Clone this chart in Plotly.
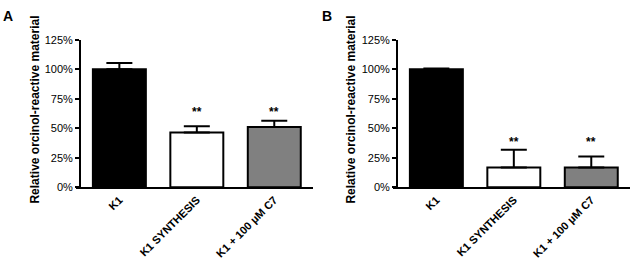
import plotly.graph_objects as go

categories = ["K1", "K1 SYNTHESIS", "K1 + 100 μM C7"]
colors = ["#000000", "#ffffff", "#808080"]
values_a = [100.0, 46.5, 51.2]
errors_a = [5.3, 5.2, 5.3]
values_b = [100.0, 16.8, 16.8]
errors_b = [0.8, 15.0, 9.3]
sig_labels = ["", "**", "**"]
y_ticks = [0, 25, 50, 75, 100, 125]
y_ticktext = ["0%", "25%", "50%", "75%", "100%", "125%"]
y_title = "Relative orcinol-reactive material"
panel_labels = ["A", "B"]

W, H = 635, 263
FONT = "Liberation Sans, Arial, sans-serif"

def px_x(p):
    return p / W

def px_y(p):
    return (H - p) / H

fig = go.Figure()

panels = [
    dict(vals=values_a, errs=errors_a, xa="x", ya="y", label_x=8, title_x=35),
    dict(vals=values_b, errs=errors_b, xa="x2", ya="y2", label_x=327, title_x=351),
]

for i, p in enumerate(panels):
    fig.add_trace(go.Bar(
        x=categories, y=p["vals"], xaxis=p["xa"], yaxis=p["ya"],
        marker=dict(color=colors, line=dict(color="black", width=2)),
        width=0.684,
        error_y=dict(type="data", array=p["errs"], arrayminus=[0] * len(p["errs"]),
                     symmetric=False, color="black", thickness=2, width=13),
        showlegend=False, hoverinfo="skip",
    ))
    top = max(v + e for v, e, s in zip(p["vals"], p["errs"], sig_labels) if s)
    for c, s in zip(categories, sig_labels):
        if s:
            fig.add_annotation(x=c, y=top + 7, xref=p["xa"], yref=p["ya"], text="<b>%s</b>" % s,
                               showarrow=False, font=dict(family=FONT, size=12, color="black"),
                               yanchor="middle")
    fig.add_annotation(x=px_x(p["label_x"]), y=px_y(10.5), xref="paper", yref="paper",
                       text="<b>%s</b>" % panel_labels[i], showarrow=False,
                       font=dict(family=FONT, size=14, color="black"),
                       xanchor="center", yanchor="middle")
    fig.add_annotation(x=px_x(p["title_x"]), y=px_y(108.5), xref="paper", yref="paper",
                       text="<b>%s</b>" % y_title, showarrow=False, textangle=-90,
                       font=dict(family=FONT, size=12, color="black"),
                       xanchor="center", yanchor="middle")

ydom = [px_y(190), px_y(35.5)]
common_x = dict(range=[-0.56, 2.5], showline=True, linecolor="black", linewidth=2,
                ticks="", tickangle=-45, showgrid=False, zeroline=False,
                tickfont=dict(family=FONT, size=11, color="black"), fixedrange=True)
common_y = dict(range=[0, 125], tickvals=y_ticks, ticktext=y_ticktext, showline=True,
                linecolor="black", linewidth=2, ticks="outside", ticklen=4, tickwidth=2,
                tickcolor="black", showgrid=False, zeroline=False, anchor="free",
                tickfont=dict(family=FONT, size=11, color="black"), domain=ydom,
                fixedrange=True)

fig.update_layout(
    width=W, height=H, autosize=False,
    margin=dict(l=0, r=0, t=0, b=0),
    paper_bgcolor="white", plot_bgcolor="white",
    bargap=0.3,
    xaxis=dict(domain=[px_x(76), px_x(313)], anchor="y",
               tickprefix="<b>", ticksuffix="</b>", **common_x),
    xaxis2=dict(domain=[px_x(393), px_x(630)], anchor="y2",
                tickprefix="<b>", ticksuffix="</b>", **common_x),
    yaxis=dict(position=px_x(80), tickprefix="<b>", ticksuffix="</b>", **common_y),
    yaxis2=dict(position=px_x(397), tickprefix="<b>", ticksuffix="</b>", **common_y),
)

fig.write_html("out.html", config={"displayModeBar": False},
               post_script="document.body.style.margin='0px';document.body.style.overflow='hidden';")
